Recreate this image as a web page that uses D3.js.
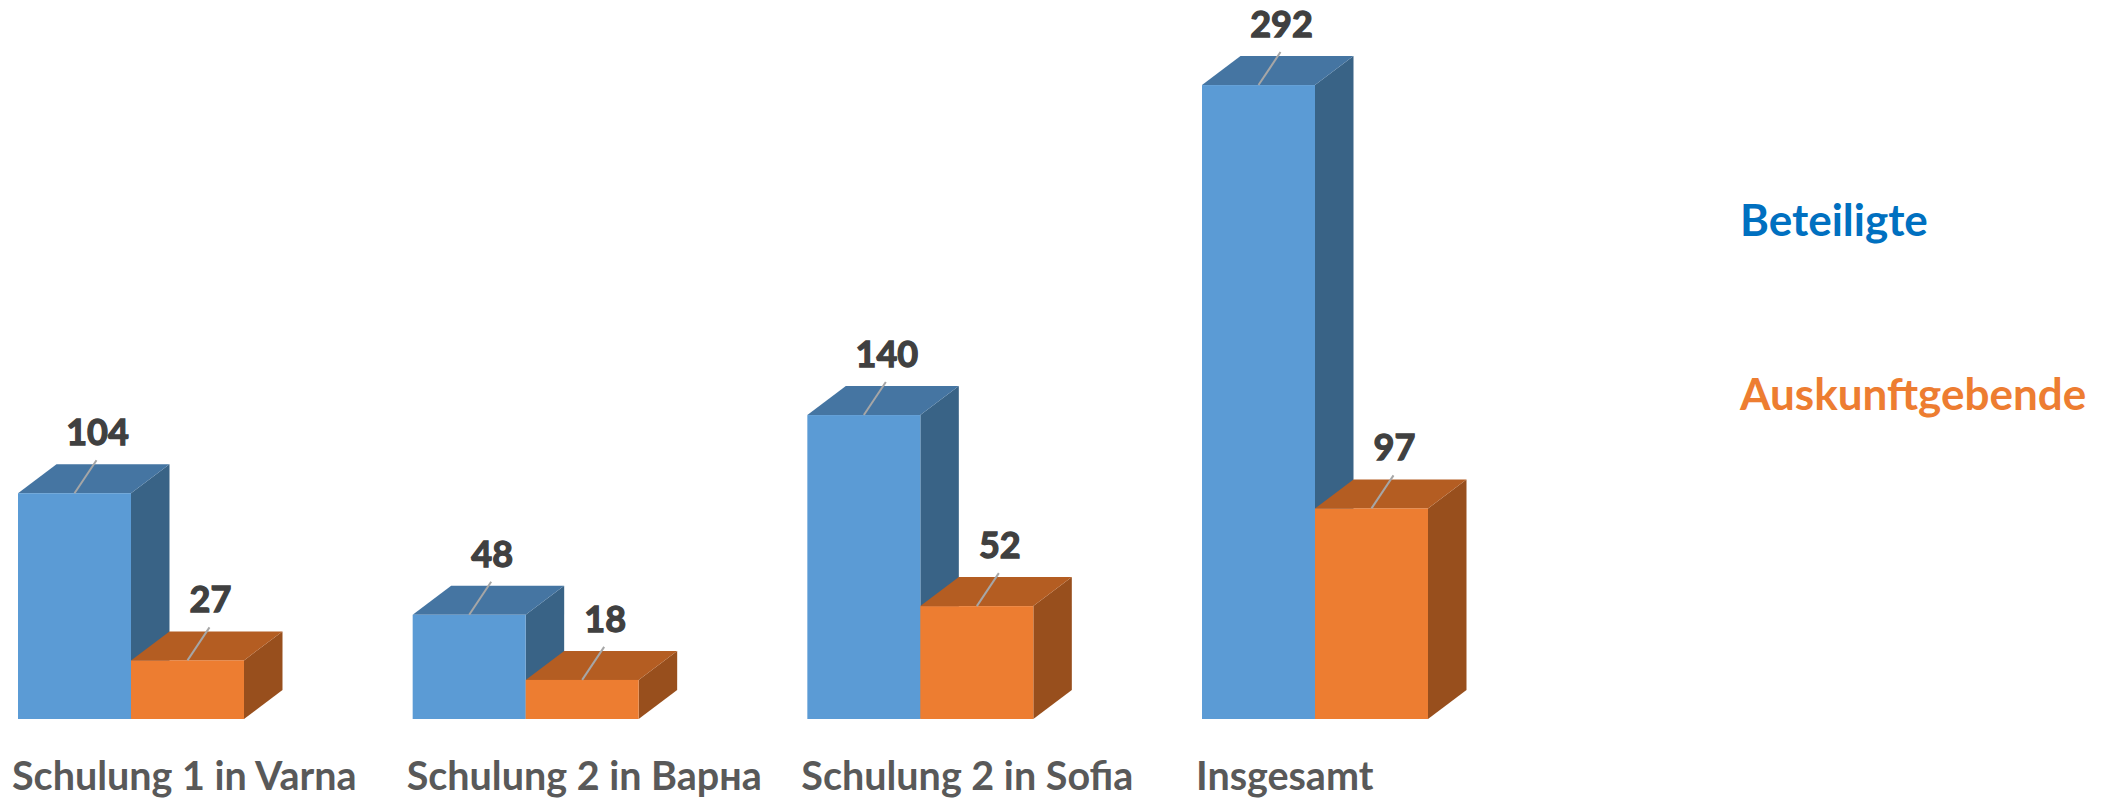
<!DOCTYPE html>
<html>
<head>
<meta charset="utf-8">
<script src="https://cdn.jsdelivr.net/npm/d3@7"></script>
<style>
  html, body { margin: 0; padding: 0; background: #fff; }
  svg { display: block; font-family: Lato, "Open Sans", sans-serif; }
</style>
</head>
<body>
<div class="chart3d"></div>
<script>
const categories = ["Schulung 1 in Varna", "Schulung 2 in Варна", "Schulung 2 in Sofia", "Insgesamt"];
const seriesNames = ["Beteiligte", "Auskunftgebende"];
const beteiligte = [104, 48, 140, 292];
const auskunftgebende = [27, 18, 52, 97];

const width = 2115, height = 800;
const depthX = 38.5, depthY = 29;

// colours: front / top / side
const palette = {
  Beteiligte: {front: "#5B9BD5", top: "#4575A2", side: "#396386", legend: "#0070C0"},
  Auskunftgebende: {front: "#ED7D31", top: "#B45D22", side: "#984F1D", legend: "#ED7D31"}
};

const data = categories.map((c, i) => ({
  cat: c,
  values: [
    {key: "Beteiligte", value: beteiligte[i]},
    {key: "Auskunftgebende", value: auskunftgebende[i]}
  ]
}));

let svg = d3.select(".chart3d")
  .append("svg")
  .attr("width", width)
  .attr("height", height);

let x0 = d3.scaleBand()
  .domain(categories)
  .range([18, 1428])
  .paddingInner(0.4274)
  .paddingOuter(0);

let x1 = d3.scaleBand()
  .domain(seriesNames)
  .range([0, x0.bandwidth()]);

let y = d3.scaleLinear()
  .domain([0, 300])
  .range([719, 719 - 300 * 2.171]);

let groups = svg.selectAll(".grp")
  .data(data)
  .enter()
  .append("g")
  .attr("class", "grp")
  .attr("transform", d => "translate(" + x0(d.cat) + ",0)");

let bars = groups.selectAll(".bar")
  .data(d => d.values)
  .enter()
  .append("g")
  .attr("class", "bar");

// side face
bars.append("path")
  .attr("fill", d => palette[d.key].side)
  .attr("d", d => {
    let xr = x1(d.key) + x1.bandwidth(), t = y(d.value), b = y(0);
    return "M" + xr + "," + t + "L" + (xr + depthX) + "," + (t - depthY) +
      "L" + (xr + depthX) + "," + (b - depthY) + "L" + xr + "," + b + "Z";
  });

// top face
bars.append("path")
  .attr("fill", d => palette[d.key].top)
  .attr("d", d => {
    let xl = x1(d.key), xr = xl + x1.bandwidth(), t = y(d.value);
    return "M" + xl + "," + t + "L" + (xl + depthX) + "," + (t - depthY) +
      "L" + (xr + depthX) + "," + (t - depthY) + "L" + xr + "," + t + "Z";
  });

// front face
bars.append("rect")
  .attr("x", d => x1(d.key))
  .attr("y", d => y(d.value))
  .attr("width", x1.bandwidth())
  .attr("height", d => y(0) - y(d.value))
  .attr("fill", d => palette[d.key].front);

// leader lines and value labels
bars.append("line")
  .attr("x1", d => x1(d.key) + x1.bandwidth() / 2)
  .attr("y1", d => y(d.value))
  .attr("x2", d => x1(d.key) + x1.bandwidth() / 2 + 22)
  .attr("y2", d => y(d.value) - 33)
  .attr("stroke", "#A6A6A6")
  .attr("stroke-width", 2);

bars.append("text")
  .attr("x", d => x1(d.key) + x1.bandwidth() / 2 + 23)
  .attr("y", d => y(d.value) - 48)
  .attr("text-anchor", "middle")
  .attr("font-size", 36)
  .attr("font-weight", 700)
  .attr("fill", "#404040")
  .attr("stroke", "#404040")
  .attr("stroke-width", 1.3)
  .text(d => d.value);

// category labels
svg.selectAll(".cat")
  .data(categories)
  .enter()
  .append("text")
  .attr("class", "cat")
  .attr("x", d => x0(d) - 6)
  .attr("y", 790)
  .attr("font-size", 39.5)
  .attr("font-weight", 700)
  .attr("fill", "#595959")
  .text(d => d);

// legend
svg.selectAll(".legend")
  .data(seriesNames)
  .enter()
  .append("text")
  .attr("class", "legend")
  .attr("x", 1740)
  .attr("y", (d, i) => 236 + i * 174)
  .attr("font-size", 44)
  .attr("font-weight", 700)
  .attr("fill", d => palette[d].legend)
  .text(d => d);
</script>
</body>
</html>
